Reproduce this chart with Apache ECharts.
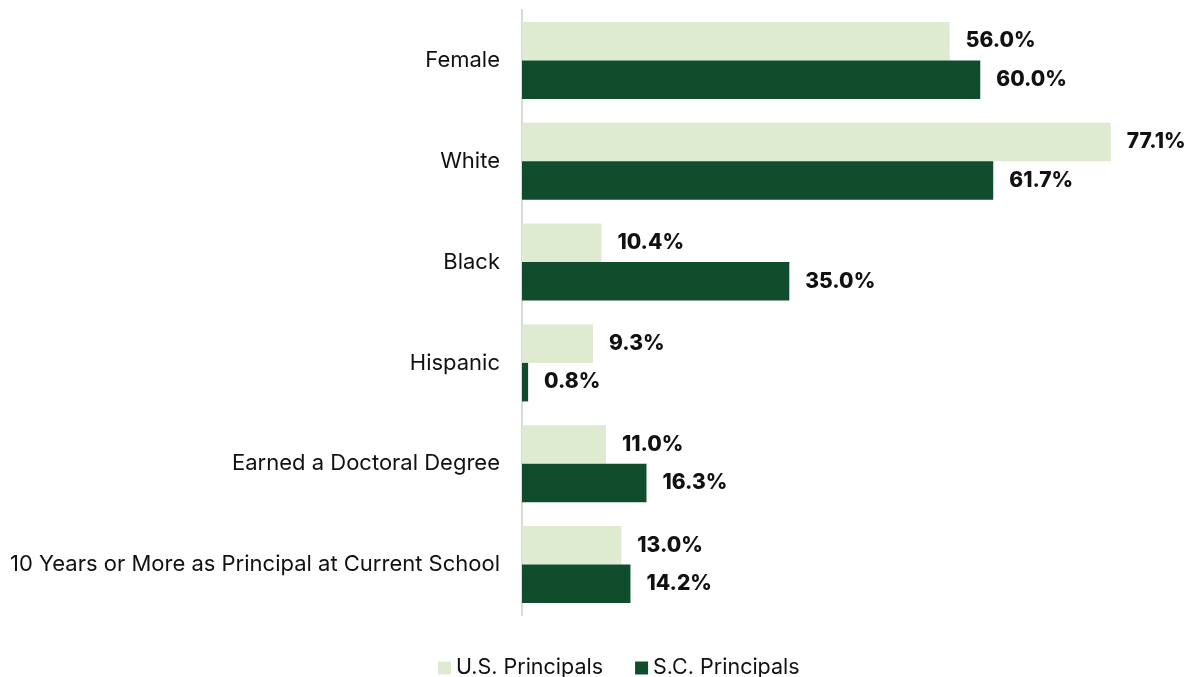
<!DOCTYPE html>
<html>
<head>
<meta charset="utf-8">
<script src="https://cdn.jsdelivr.net/npm/echarts@6/dist/echarts.min.js"></script>
<style>
  html, body { margin: 0; padding: 0; background: #fff; }
  #chart { width: 1193px; height: 677px; }
</style>
</head>
<body>
<div id="chart"></div>
<script>
const categories = [
  'Female',
  'White',
  'Black',
  'Hispanic',
  'Earned a Doctoral Degree',
  '10 Years or More as Principal at Current School'
];
const usValues = [56.0, 77.1, 10.4, 9.3, 11.0, 13.0];
const scValues = [60.0, 61.7, 35.0, 0.8, 16.3, 14.2];

const chart = echarts.init(document.getElementById('chart'));

const labelStyle = {
  show: true,
  position: 'right',
  distance: 16,
  color: '#111',
  fontFamily: 'Inter',
  fontWeight: 800,
  fontSize: 21,
  formatter: (p) => p.value.toFixed(1) + '%'
};

chart.setOption({
  animation: false,
  grid: { left: 522, right: 60, top: 10, bottom: 62 },
  legend: {
    top: 652,
    left: 433,
    itemWidth: 13,
    itemHeight: 13,
    itemGap: 32,
    icon: 'rect',
    textStyle: { fontFamily: 'Inter', fontSize: 21.5, color: '#111' },
    data: ['U.S. Principals', 'S.C. Principals']
  },
  xAxis: {
    type: 'value',
    min: 0,
    max: 80,
    show: false
  },
  yAxis: {
    type: 'category',
    inverse: true,
    data: categories,
    axisLine: { lineStyle: { color: '#d9d9d9', width: 2 } },
    axisTick: { show: false },
    axisLabel: { fontFamily: 'Inter', fontSize: 22, color: '#111', margin: 22 }
  },
  series: [
    {
      name: 'U.S. Principals',
      type: 'bar',
      data: usValues,
      barGap: '0%',
      barCategoryGap: '23.6%',
      itemStyle: { color: '#dfebd0' },
      label: labelStyle
    },
    {
      name: 'S.C. Principals',
      type: 'bar',
      data: scValues,
      itemStyle: { color: '#0f4d2d' },
      label: labelStyle
    }
  ]
});
</script>
</body>
</html>
